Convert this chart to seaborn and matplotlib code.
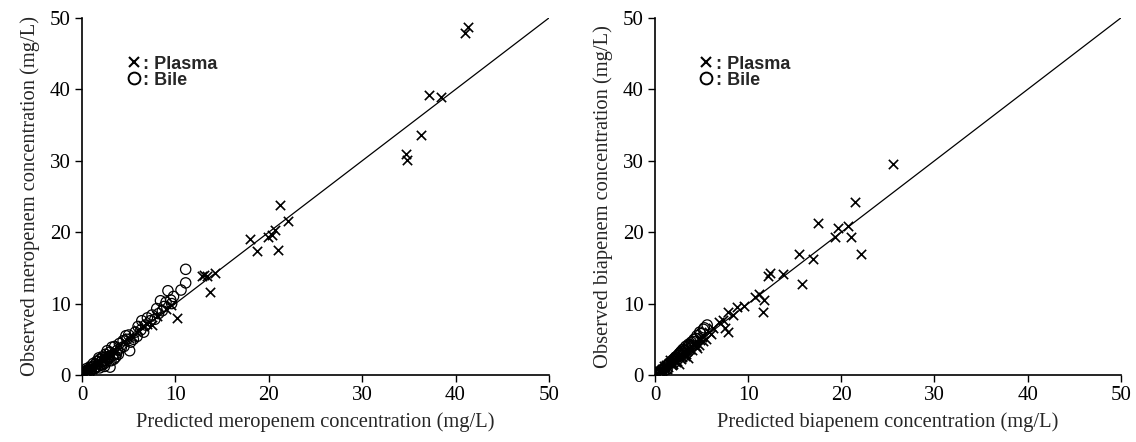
import numpy as np
import pandas as pd
import matplotlib
matplotlib.use("Agg")
import matplotlib.pyplot as plt
from matplotlib.lines import Line2D
import seaborn as sns

# meropenem, plasma (predicted, observed)
mero_plasma_pred = [41.3, 41.0, 37.2, 38.4, 36.3, 34.7, 34.8, 21.2, 22.1, 20.7, 20.3, 19.9,
                    18.0, 18.7, 21.0, 14.2, 12.8, 13.1, 13.4, 13.7, 10.2,
                    0.2, 0.4, 0.6, 0.8, 1.0, 1.2, 1.5, 1.8, 2.0, 2.3, 2.6, 3.0, 3.3, 3.6,
                    4.0, 4.5, 5.0, 5.5, 6.0, 6.5, 7.0, 7.5, 8.0, 9.0, 9.5,
                    0.3, 0.5, 0.7, 0.9, 1.1, 1.4, 1.7, 2.2, 2.5, 2.8]
mero_plasma_obs = [48.7, 47.9, 39.2, 38.9, 33.6, 31.0, 30.1, 23.8, 21.6, 20.3, 19.6, 19.3,
                   19.0, 17.4, 17.5, 14.3, 13.9, 14.0, 13.9, 11.6, 8.0,
                   0.3, 0.5, 0.9, 0.7, 1.3, 1.0, 1.8, 1.5, 2.3, 2.0, 2.8, 2.6, 3.5, 3.2,
                   4.2, 4.8, 5.2, 5.3, 6.3, 6.8, 7.2, 7.0, 8.3, 9.3, 9.8,
                   0.1, 0.4, 0.5, 1.1, 0.8, 1.3, 1.9, 2.6, 2.2, 3.0]

# meropenem, bile
mero_bile_pred = [11.1, 11.1, 10.6, 9.2, 9.8, 9.5, 9.0, 8.4, 8.8, 9.6, 8.6, 8.0, 7.5, 7.0,
                  7.3, 6.8, 6.4, 6.0, 6.3, 5.7, 5.5, 5.0, 5.2, 4.8, 5.1, 4.4, 4.5, 4.0,
                  4.2, 3.8, 3.5, 3.3, 3.6, 3.0, 3.0, 2.8, 2.5, 2.6, 2.2, 2.3, 2.0, 1.9,
                  1.7, 1.6, 1.4, 1.3, 1.1, 1.0, 0.9, 0.8, 0.7, 0.5, 0.4, 0.3, 0.2, 0.1,
                  2.7, 3.9, 3.2, 4.7, 5.9, 6.6, 7.8, 8.2, 3.4, 2.4,
                  0.5, 0.9, 1.2, 1.5, 1.8, 2.1, 2.4, 2.9, 3.1, 3.7, 0.6, 1.9]
mero_bile_obs = [14.8, 12.9, 11.9, 11.8, 11.0, 10.5, 10.2, 10.4, 9.6, 10.0, 9.0, 9.3, 8.4, 8.0,
                 7.6, 7.0, 7.6, 6.8, 6.3, 6.0, 5.0, 5.6, 4.6, 5.0, 3.4, 4.8, 4.0, 4.4,
                 3.8, 3.5, 4.0, 2.8, 2.5, 3.2, 1.1, 2.3, 2.9, 1.8, 2.5, 1.5, 1.8, 2.2,
                 1.2, 1.9, 1.5, 0.9, 1.2, 0.7, 1.0, 0.5, 0.8, 0.6, 0.3, 0.4, 0.2, 0.1,
                 3.4, 2.9, 3.9, 5.5, 5.4, 6.0, 7.8, 8.6, 2.2, 1.2,
                 0.9, 0.6, 1.6, 1.1, 2.4, 1.4, 2.0, 2.6, 2.0, 3.0, 0.3, 1.0]

# biapenem, plasma
bia_plasma_pred = [25.6, 21.5, 17.5, 19.6, 20.7, 19.3, 21.0, 22.1, 15.5, 17.0, 15.8, 13.7,
                   12.3, 12.1, 11.6, 11.7, 10.7, 11.2, 8.8, 7.8, 7.3, 6.9, 7.8, 7.5, 8.4, 9.5,
                   0.3, 0.5, 0.8, 1.0, 1.3, 1.5, 1.8, 2.0, 2.2, 2.5, 2.8, 3.0, 3.3, 3.6,
                   4.0, 4.3, 4.7, 5.0, 5.5, 6.0, 6.2, 3.5, 2.6, 1.6, 4.5,
                   0.1, 0.4, 0.6, 0.7, 1.1, 1.2, 1.4, 1.7, 1.9, 2.1, 2.3, 2.4, 2.7, 2.9,
                   3.1, 3.2, 3.4, 3.8, 4.1, 4.4, 4.8, 5.2, 5.8]
bia_plasma_obs = [29.6, 24.2, 21.3, 20.6, 20.9, 19.3, 19.3, 16.9, 16.9, 16.2, 12.7, 14.1,
                  14.3, 13.9, 8.8, 10.5, 10.9, 11.4, 9.5, 8.8, 7.7, 7.4, 6.0, 6.6, 8.4, 9.6,
                  0.2, 0.6, 0.5, 1.2, 0.9, 1.7, 1.4, 2.2, 1.8, 2.6, 2.3, 3.2, 2.9, 3.7,
                  3.5, 4.5, 4.2, 5.3, 5.0, 5.7, 6.6, 2.4, 1.6, 2.1, 3.8,
                  0.1, 0.5, 0.3, 0.9, 0.8, 1.4, 1.1, 1.8, 1.6, 2.0, 2.5, 2.0, 2.8, 2.5,
                  3.4, 2.7, 3.3, 3.6, 4.3, 4.0, 4.9, 4.7, 6.0]

# biapenem, bile
bia_bile_pred = [5.6, 4.8, 5.2, 4.5, 4.2, 3.9, 3.6, 3.3, 3.0, 2.8, 2.6, 2.4, 2.2, 2.0, 1.8,
                 1.6, 1.4, 1.2, 1.0, 0.8, 0.6, 0.4, 0.2, 0.5, 0.9, 1.3, 3.5, 4.0, 2.9, 3.2,
                 0.3, 0.7, 1.1, 1.5, 1.9, 2.1, 2.5, 2.7, 3.1, 3.4, 3.7, 4.1, 4.4, 4.9, 5.3]
bia_bile_obs = [7.0, 6.0, 6.4, 5.5, 5.0, 4.6, 4.3, 4.0, 3.6, 3.3, 3.0, 2.7, 2.5, 2.2, 2.0,
                1.7, 1.5, 1.3, 1.0, 0.8, 0.6, 0.4, 0.1, 0.2, 0.4, 0.8, 3.5, 4.1, 2.8, 3.1,
                0.3, 0.6, 1.1, 1.6, 1.9, 2.3, 2.8, 3.1, 3.4, 3.8, 4.2, 4.7, 5.1, 5.8, 6.6]

panels = [
    ("meropenem", mero_plasma_pred, mero_plasma_obs, mero_bile_pred, mero_bile_obs),
    ("biapenem", bia_plasma_pred, bia_plasma_obs, bia_bile_pred, bia_bile_obs),
]
ticks = [0, 10, 20, 30, 40, 50]

sns.set_style("ticks")
plt.rcParams["font.family"] = ["Liberation Serif", "DejaVu Serif"]
plt.rcParams["xtick.direction"] = "out"
plt.rcParams["ytick.direction"] = "out"

fig = plt.figure(figsize=(11.36, 4.42), dpi=100)
axes = [fig.add_axes([0.0722, 0.1516, 0.411, 0.8077]),
        fig.add_axes([0.5766, 0.1516, 0.410, 0.8077])]

for ax, (drug, pp, po, bp, bo) in zip(axes, panels):
    ax.plot([0, 50], [0, 50], color="black", lw=0.9, zorder=1)
    sns.scatterplot(x=bp, y=bo, marker="o", s=55, facecolor="none",
                    edgecolor="black", linewidth=0.9, ax=ax, zorder=2)
    sns.scatterplot(x=pp, y=po, marker="x", s=45, color="black",
                    linewidth=1.2, ax=ax, zorder=3)
    ax.set_xlim(0, 50)
    ax.set_ylim(0, 50)
    ax.set_xticks(ticks)
    ax.set_yticks(ticks)
    ax.tick_params(labelsize=15, length=5, width=1, pad=3, colors="black")
    for side in ["left", "bottom"]:
        ax.spines[side].set_linewidth(1.2)
        ax.spines[side].set_color("black")
    sns.despine(ax=ax)
    ax.set_xlabel(f"Predicted {drug} concentration (mg/L)", fontsize=14.8, labelpad=5)
    ax.set_ylabel(f"Observed {drug} concentration (mg/L)", fontsize=14.8, labelpad=7)

    handles = [Line2D([], [], ls="none", marker="x", color="black", ms=6.5, mew=1.5),
               Line2D([], [], ls="none", marker="o", mfc="none", mec="black", ms=8.5, mew=1.4)]
    ax.legend(handles, [": Plasma", ": Bile"], loc="upper left",
              bbox_to_anchor=(0.06, 0.94), frameon=False, handlelength=0.8,
              handletextpad=0.15, labelspacing=-0.05,
              prop={"family": "Liberation Sans", "weight": "bold", "size": 13})

fig.savefig("out.png", dpi=100, facecolor="white")
